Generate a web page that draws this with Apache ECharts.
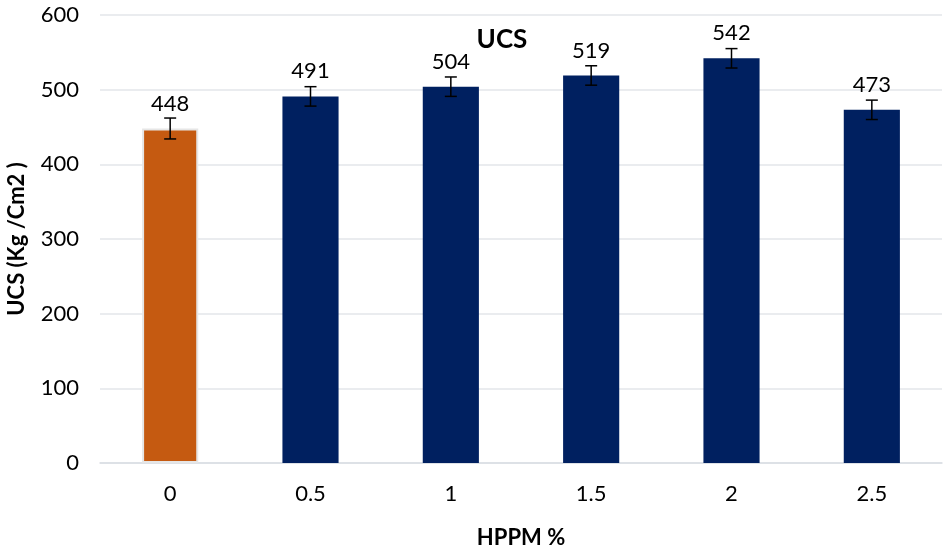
<!DOCTYPE html>
<html><head><meta charset="utf-8">
<script src="https://cdn.jsdelivr.net/npm/echarts@6/dist/echarts.min.js"></script>
<style>html,body{margin:0;padding:0;background:#fff}#c{width:944px;height:553px}</style>
</head><body><div id="c"></div>
<script>
const categories = ['0','0.5','1','1.5','2','2.5'];
const values = [448, 491, 504, 519, 542, 473];
const errors = [14, 13, 13, 13, 13, 13];
const barColors = ['#C55A11','#002060','#002060','#002060','#002060','#002060'];
const yTicks = [0,100,200,300,400,500,600];

const font = 'Lato';
const chart = echarts.init(document.getElementById('c'));
chart.setOption({
  animation:false,
  title:{text:'UCS', left:497, top:22, textAlign:'center',
    textStyle:{fontFamily:font, fontSize:26, fontWeight:'bold', color:'#000'}},
  grid:{left:100, right:2, top:15, bottom:90, containLabel:false, outerBoundsMode:'none'},
  xAxis:{type:'category', data:categories,
    name:'HPPM %', nameLocation:'middle', nameGap:64,
    nameTextStyle:{fontFamily:font, fontSize:22, fontWeight:'bold', color:'#000'},
    axisLine:{lineStyle:{color:'#d9dde3', width:1.5}}, axisTick:{show:false},
    axisLabel:{fontFamily:font, fontSize:22, color:'#000', margin:20}},
  yAxis:{type:'value', min:yTicks[0], max:yTicks[yTicks.length-1], interval:100,
    name:'UCS (Kg /Cm2 )', nameLocation:'middle', nameGap:72,
    nameTextStyle:{fontFamily:font, fontSize:22, fontWeight:'bold', color:'#000'},
    axisLine:{show:false}, axisTick:{show:false},
    axisLabel:{fontFamily:font, fontSize:22, color:'#000', margin:21},
    splitLine:{lineStyle:{color:'#e3e6ea', width:1.5}}},
  series:[
    {type:'bar', barWidth:'40%',
      data: values.map((v,i)=>({value:v, itemStyle:{color:barColors[i],
        borderColor: i===0 ? '#e6e6e6' : barColors[i], borderWidth: i===0 ? 2 : 0}})),
      label:{show:true, position:'top', distance:14, fontFamily:font, fontSize:22, color:'#000'}},
    {type:'custom', z:10,
      data: values.map((v,i)=>[i, v-errors[i], v+errors[i]]),
      renderItem:(params, api)=>{
        const lo = api.coord([api.value(0), api.value(1)]);
        const hi = api.coord([api.value(0), api.value(2)]);
        const w = 6;
        const st = {stroke:'#000', lineWidth:1.5};
        return {type:'group', children:[
          {type:'line', shape:{x1:lo[0], y1:lo[1], x2:hi[0], y2:hi[1]}, style:st},
          {type:'line', shape:{x1:lo[0]-w, y1:lo[1], x2:lo[0]+w, y2:lo[1]}, style:st},
          {type:'line', shape:{x1:hi[0]-w, y1:hi[1], x2:hi[0]+w, y2:hi[1]}, style:st}
        ]};
      }}
  ]
});
</script></body></html>
